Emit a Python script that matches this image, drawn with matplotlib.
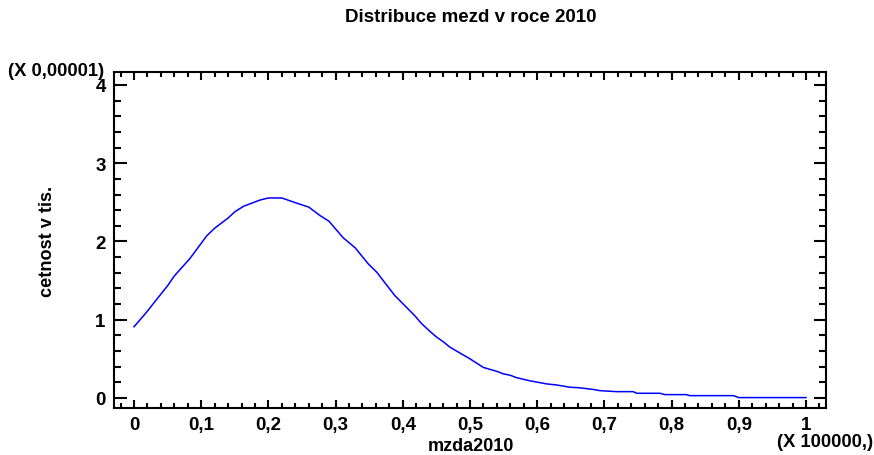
import matplotlib.pyplot as plt
from matplotlib.ticker import MultipleLocator, FuncFormatter

# mzda (x 100000) and cetnost (x 0,00001)
mzda = [0, 0.02, 0.03, 0.05, 0.06, 0.083, 0.108, 0.12, 0.14, 0.15, 0.163, 0.1875,
        0.2, 0.22, 0.242, 0.26, 0.277, 0.29, 0.311, 0.329, 0.349, 0.361, 0.388,
        0.418, 0.428, 0.438, 0.45, 0.46, 0.47, 0.5, 0.52, 0.54, 0.549, 0.56,
        0.569, 0.589, 0.614, 0.629, 0.649, 0.661, 0.683, 0.693, 0.718, 0.743,
        0.748, 0.783, 0.79, 0.822, 0.827, 0.892, 0.9, 1.0]
cetnost = [0.91, 1.11, 1.22, 1.435, 1.56, 1.78, 2.07, 2.17, 2.30, 2.38, 2.45, 2.53,
           2.556, 2.556, 2.49, 2.44, 2.33, 2.26, 2.05, 1.92, 1.71, 1.61, 1.31,
           1.05, 0.95, 0.87, 0.78, 0.72, 0.65, 0.50, 0.39, 0.34, 0.31, 0.29,
           0.26, 0.22, 0.18, 0.166, 0.137, 0.132, 0.11, 0.094, 0.081, 0.081,
           0.06, 0.06, 0.043, 0.043, 0.03, 0.03, 0.005, 0.005]

plt.rcParams['font.family'] = ['Liberation Sans', 'DejaVu Sans']
plt.rcParams['font.weight'] = 'bold'

fig = plt.figure(figsize=(8.74, 4.56), dpi=100)
ax = fig.add_axes([114/874, 1-409/456, 712/874, 336/456])
ax.plot(mzda, cetnost, color='#0000ff', lw=1.1)

ax.set_xlim(-0.0298, 1.0298)
ax.set_ylim(-0.128, 4.166)
ax.xaxis.set_major_locator(MultipleLocator(0.1))
ax.xaxis.set_minor_locator(MultipleLocator(0.02))
ax.yaxis.set_major_locator(MultipleLocator(1))
ax.yaxis.set_minor_locator(MultipleLocator(0.2))

def fmt(v, pos):
    s = ('%.1f' % v).rstrip('0').rstrip('.')
    return s.replace('.', ',')

ax.xaxis.set_major_formatter(FuncFormatter(fmt))
ax.yaxis.set_major_formatter(FuncFormatter(fmt))

ax.tick_params(which='both', direction='in', top=True, right=True, width=1.5,
               labelsize=13.5)
ax.tick_params(axis='x', which='major', length=6, pad=6)
ax.tick_params(axis='x', which='minor', length=3.5)
ax.tick_params(axis='y', which='major', length=9, pad=6)
ax.tick_params(axis='y', which='minor', length=5)
for sp in ax.spines.values():
    sp.set_linewidth(1.5)

fig.text(471/874, 1-18/456, 'Distribuce mezd v roce 2010', ha='center', va='center',
         fontsize=13.5, fontweight='bold')
fig.text(471/874, 1-447/456, 'mzda2010', ha='center', va='center',
         fontsize=13, fontweight='bold')
fig.text(48/874, 1-241/456, 'cetnost v tis.', ha='center', va='center',
         rotation=90, fontsize=13.1, fontweight='bold')
fig.text(8/874, 1-71/456, '(X 0,00001)', ha='left', va='center',
         fontsize=13.2, fontweight='bold')
fig.text(873/874, 1-434/456, '(X 100000,)', ha='right', va='top',
         fontsize=13.2, fontweight='bold')

fig.savefig('out.png', dpi=100)
